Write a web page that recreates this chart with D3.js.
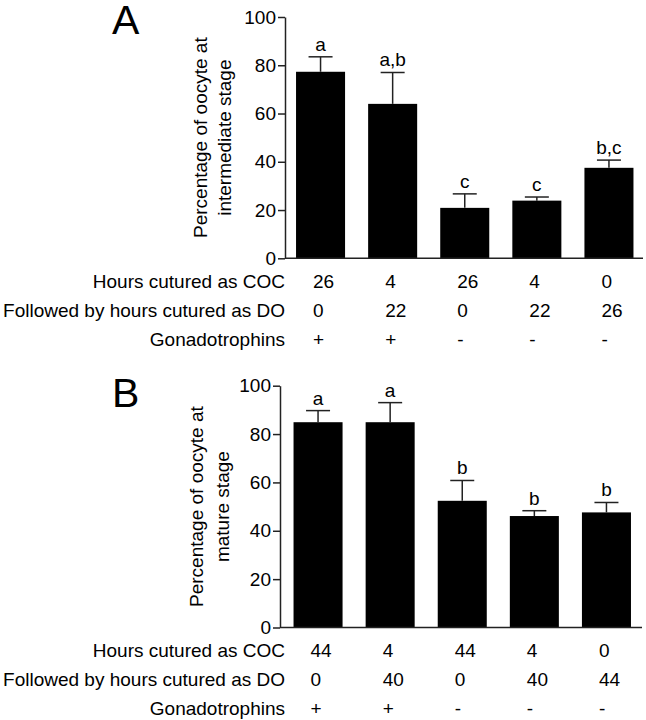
<!DOCTYPE html>
<html>
<head>
<meta charset="utf-8">
<script src="https://cdn.jsdelivr.net/npm/d3@7"></script>
<style>
  html, body { margin: 0; padding: 0; background: #fff; }
  svg { display: block; font-family: "Liberation Sans", Arial, sans-serif; }
</style>
</head>
<body>
<svg id="chart" width="646" height="720"></svg>
<script>
// ---------- Data ----------
const groups = [0, 1, 2, 3, 4];
const yTicks = [0, 20, 40, 60, 80, 100];
const rowLabels = ["Hours cutured as COC", "Followed by hours cutured as DO", "Gonadotrophins"];

// Panel A: intermediate stage
const intermediateMean = [77.3, 64.0, 20.9, 23.9, 37.5];
const intermediateSem  = [6.2, 13.0, 5.8, 1.5, 3.2];
const intermediateLetters = ["a", "a,b", "c", "c", "b,c"];
const cocHoursA = ["26", "4", "26", "4", "0"];
const doHoursA  = ["0", "22", "0", "22", "26"];
const gonadA    = ["+", "+", "-", "-", "-"];

// Panel B: mature stage
const matureMean = [84.9, 84.9, 52.4, 46.1, 47.6];
const matureSem  = [4.8, 8.1, 8.4, 2.2, 4.1];
const matureLetters = ["a", "a", "b", "b", "b"];
const cocHoursB = ["44", "4", "44", "4", "0"];
const doHoursB  = ["0", "40", "0", "40", "44"];
const gonadB    = ["+", "+", "-", "-", "-"];

// ---------- Drawing ----------
const svg = d3.select("#chart");
const FONT = 19;
const INK = "#222";

function drawPanel(p) {
  const g = svg.append("g");
  const y = d3.scaleLinear().domain([0, 100]).range([p.yBottom, p.yTop]);
  const x = d3.scaleBand().domain(groups).range(p.xRange)
    .paddingInner(0.32).paddingOuter(0.16);

  // bars
  g.selectAll("rect.bar").data(groups).join("rect")
    .attr("x", i => x(i))
    .attr("y", i => y(p.mean[i]))
    .attr("width", x.bandwidth())
    .attr("height", i => y(0) - y(p.mean[i]))
    .attr("fill", "#000");

  // error bars (upper only)
  const capHalf = 12;
  g.selectAll("line.err").data(groups).join("line")
    .attr("x1", i => x(i) + x.bandwidth() / 2)
    .attr("x2", i => x(i) + x.bandwidth() / 2)
    .attr("y1", i => y(p.mean[i]))
    .attr("y2", i => y(p.mean[i] + p.sem[i]))
    .attr("stroke", INK).attr("stroke-width", 1.5);
  g.selectAll("line.cap").data(groups).join("line")
    .attr("x1", i => x(i) + x.bandwidth() / 2 - capHalf)
    .attr("x2", i => x(i) + x.bandwidth() / 2 + capHalf)
    .attr("y1", i => y(p.mean[i] + p.sem[i]))
    .attr("y2", i => y(p.mean[i] + p.sem[i]))
    .attr("stroke", INK).attr("stroke-width", 1.5);

  // significance letters
  g.selectAll("text.sig").data(groups).join("text")
    .attr("x", i => x(i) + x.bandwidth() / 2)
    .attr("y", i => y(p.mean[i] + p.sem[i]) - 6)
    .attr("text-anchor", "middle")
    .attr("font-size", FONT)
    .attr("fill", "#000")
    .text(i => p.letters[i]);

  // y axis
  const axis = g.append("g")
    .attr("transform", `translate(${p.axisX},0)`)
    .call(d3.axisLeft(y).tickValues(yTicks).tickSize(7).tickSizeOuter(0).tickPadding(2));
  axis.select(".domain").attr("stroke", INK).attr("stroke-width", 1.5);
  axis.selectAll(".tick line").attr("stroke", INK).attr("stroke-width", 1.5);
  axis.selectAll(".tick text")
    .attr("font-size", FONT)
    .attr("font-family", "Liberation Sans, Arial, sans-serif")
    .attr("fill", "#000");

  // x axis baseline
  g.append("line")
    .attr("x1", p.axisX).attr("x2", p.xAxisEnd)
    .attr("y1", y(0)).attr("y2", y(0))
    .attr("stroke", INK).attr("stroke-width", 1.5);

  // y axis title (two lines)
  const cy = (p.yTop + p.yBottom) / 2;
  p.yTitle.forEach((t, k) => {
    g.append("text")
      .attr("transform", `translate(${p.titleX[k]},${cy}) rotate(-90)`)
      .attr("text-anchor", "middle")
      .attr("font-size", FONT)
      .attr("fill", "#000")
      .text(t);
  });

  // panel letter
  g.append("text")
    .attr("x", p.letterX).attr("y", p.letterY)
    .attr("font-size", 41)
    .attr("fill", "#000")
    .text(p.panel);

  // table rows under the axis
  const rowOffsets = [29.5, 58.5, 87.5];
  const rows = [p.coc, p.dO, p.gonad];
  rows.forEach((vals, r) => {
    const by = y(0) + rowOffsets[r];
    g.append("text")
      .attr("x", 285).attr("y", by)
      .attr("text-anchor", "end")
      .attr("font-size", FONT)
      .attr("fill", "#000")
      .text(rowLabels[r]);
    g.selectAll(null).data(groups).join("text")
      .attr("x", i => x(i) + 17)
      .attr("y", by)
      .attr("text-anchor", "start")
      .attr("font-size", FONT)
      .attr("fill", "#000")
      .text(i => vals[i]);
  });
}

drawPanel({
  panel: "A",
  mean: intermediateMean, sem: intermediateSem, letters: intermediateLetters,
  coc: cocHoursA, dO: doHoursA, gonad: gonadA,
  yTop: 17, yBottom: 258.3,
  xRange: [284.5, 645], axisX: 285, xAxisEnd: 643,
  yTitle: ["Percentage of oocyte at", "intermediate stage"],
  titleX: [207, 231],
  letterX: 112, letterY: 34
});

drawPanel({
  panel: "B",
  mean: matureMean, sem: matureSem, letters: matureLetters,
  coc: cocHoursB, dO: doHoursB, gonad: gonadB,
  yTop: 385.7, yBottom: 627.5,
  xRange: [282, 642.5], axisX: 280, xAxisEnd: 642,
  yTitle: ["Percentage of oocyte at", "mature stage"],
  titleX: [203, 229],
  letterX: 112, letterY: 406.5
});
</script>
</body>
</html>
